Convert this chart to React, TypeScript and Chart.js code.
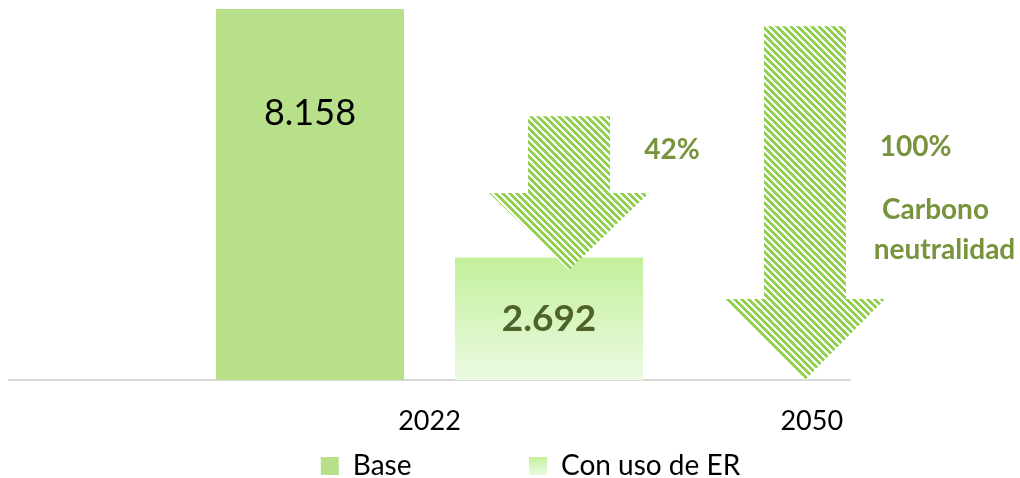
import React, { useEffect, useRef } from 'react';
import { Chart, registerables } from 'chart.js';

Chart.register(...registerables);

// ---- data ----
const categories = ['', '', '', '', '', '2022', '', '', '', '', '2050'];
const seriesNames = ['Base', 'Con uso de ER'];
const baseValues = [null, null, null, null, null, 8.158, null, null, null, null, null];
const erValues = [null, null, null, null, null, 2.692, null, null, null, null, null];
const valueLabels = ['8.158', '2.692'];
const valueLabelLevels = [5.87, 1.35];
const yMax = 8.356;

// reduction arrows (x in category units, levels in value units)
const arrowCenters = [6.825, 9.911];
const arrowTops = [5.8, 7.78];
const arrowHeadStarts = [4.11, 1.78];
const arrowTips = [2.42, 0];

// notes
const noteTexts = ['42%', '100%', 'Carbono', 'neutralidad'];
const noteCats = [8.172, 11.357, 11.618, 11.736];
const noteLevels = [5.057, 5.123, 3.738, 2.858];

// ---- styles ----
const BASE_COLOR = '#B8E08B';
const ER_TOP = '#C3F09B';
const ER_BOTTOM = '#EBFAE2';
const STRIPE = [146, 208, 80];
const NOTE_COLOR = '#77933C';
const DARK = '#4F6228';
const FONT = 'Lato';
const SHAFT_HALF = 41;
const HEAD_HALF = 80;
const LEGEND_GAP_SPACES = 15;

function makePattern(ctx: CanvasRenderingContext2D) {
  const P = 7;
  const W = 4;
  const c = document.createElement('canvas');
  c.width = P;
  c.height = P;
  const g = c.getContext('2d')!;
  const img = g.createImageData(P, P);
  for (let y = 0; y < P; y++) {
    for (let x = 0; x < P; x++) {
      const i = (y * P + x) * 4;
      const on = (((x - y) % P) + P) % P < W;
      img.data[i] = on ? STRIPE[0] : 255;
      img.data[i + 1] = on ? STRIPE[1] : 255;
      img.data[i + 2] = on ? STRIPE[2] : 255;
      img.data[i + 3] = 255;
    }
  }
  g.putImageData(img, 0, 0);
  return ctx.createPattern(c, 'repeat')!;
}

const overlayPlugin = {
  id: 'overlay',
  afterDatasetsDraw(chart: any) {
    const { ctx } = chart;
    const xs = chart.scales.x;
    const ys = chart.scales.y;
    const pattern = makePattern(ctx);
    ctx.save();
    // arrows
    arrowCenters.forEach((c, i) => {
      const cx = xs.getPixelForValue(c);
      const top = ys.getPixelForValue(arrowTops[i]);
      const hs = ys.getPixelForValue(arrowHeadStarts[i]);
      const tip = ys.getPixelForValue(arrowTips[i]);
      ctx.beginPath();
      ctx.moveTo(cx - SHAFT_HALF, top);
      ctx.lineTo(cx + SHAFT_HALF, top);
      ctx.lineTo(cx + SHAFT_HALF, hs);
      ctx.lineTo(cx + HEAD_HALF, hs);
      ctx.lineTo(cx, tip);
      ctx.lineTo(cx - HEAD_HALF, hs);
      ctx.lineTo(cx - SHAFT_HALF, hs);
      ctx.closePath();
      ctx.fillStyle = pattern;
      ctx.fill();
    });
    // value labels
    ctx.textAlign = 'center';
    ctx.textBaseline = 'middle';
    valueLabels.forEach((t, i) => {
      const meta = chart.getDatasetMeta(i);
      const bar = meta.data[5];
      if (!bar) return;
      const y = ys.getPixelForValue(valueLabelLevels[i]);
      ctx.font = i === 0 ? `36px ${FONT}` : `bold 37px ${FONT}`;
      ctx.fillStyle = i === 0 ? '#000000' : DARK;
      ctx.fillText(t, bar.x, y);
    });
    // notes
    ctx.font = `bold 28px ${FONT}`;
    ctx.fillStyle = NOTE_COLOR;
    noteTexts.forEach((t, i) => {
      ctx.fillText(t, xs.getPixelForValue(noteCats[i]), ys.getPixelForValue(noteLevels[i]));
    });
    ctx.restore();
  },
};

function erFill(ctx: any) {
  const chart = ctx.chart;
  const area = chart.chartArea;
  const ys = chart.scales && chart.scales.y;
  if (!area || !ys) return ER_TOP;
  const v = ctx.type === 'data' && ctx.parsed && Number.isFinite(ctx.parsed.y) ? ctx.parsed.y : null;
  if (v === null) return ER_TOP;
  const yTop = ys.getPixelForValue(v);
  if (!Number.isFinite(yTop) || !Number.isFinite(area.bottom)) return ER_TOP;
  const g = chart.ctx.createLinearGradient(0, yTop, 0, area.bottom);
  g.addColorStop(0, ER_TOP);
  g.addColorStop(1, ER_BOTTOM);
  return g;
}

export default function App() {
  const ref = useRef<HTMLCanvasElement>(null);
  useEffect(() => {
    if (!ref.current) return;
    Chart.defaults.font.family = FONT;
    const chart = new Chart(ref.current, {
      type: 'bar',
      data: {
        labels: categories,
        datasets: [
          {
            label: seriesNames[0],
            data: baseValues,
            backgroundColor: BASE_COLOR,
            borderWidth: 0,
          },
          {
            label: seriesNames[1],
            data: erValues,
            backgroundColor: erFill,
            borderWidth: 0,
          },
        ],
      },
      options: {
        animation: false,
        responsive: false,
        layout: { padding: { left: 9, right: 0, top: 0, bottom: 0 } },
        datasets: {
          bar: {
            categoryPercentage: 6.252,
            barPercentage: 0.7866,
          },
        },
        scales: {
          x: {
            grid: { display: false, drawTicks: false },
            border: { display: true, color: '#D9D9D9', width: 2 },
            ticks: {
              autoSkip: false,
              maxRotation: 0,
              padding: 25,
              color: '#000000',
              font: { size: 27, family: FONT },
            },
            afterFit: (s: any) => {
              s.height = 62;
            },
          },
          y: {
            position: 'right',
            min: 0,
            max: yMax,
            grid: { display: false, drawTicks: false },
            border: { display: false },
            ticks: { display: false },
            afterFit: (s: any) => {
              s.width = 202;
            },
          },
        },
        plugins: {
          tooltip: { enabled: false },
          legend: {
            position: 'bottom',
            labels: {
              boxWidth: 18,
              boxHeight: 18,
              padding: 10,
              color: '#000000',
              font: { size: 28, family: FONT },
              generateLabels: (c: any) => {
                const h = c.height;
                const g = c.ctx.createLinearGradient(0, h - 33, 0, h - 15);
                g.addColorStop(0, ER_TOP);
                g.addColorStop(1, ER_BOTTOM);
                return [
                  {
                    text: seriesNames[0] + ' '.repeat(LEGEND_GAP_SPACES),
                    fillStyle: BASE_COLOR,
                    strokeStyle: BASE_COLOR,
                    lineWidth: 0,
                    hidden: false,
                    datasetIndex: 0,
                  },
                  {
                    text: seriesNames[1],
                    fillStyle: g,
                    strokeStyle: ER_TOP,
                    lineWidth: 0,
                    hidden: false,
                    datasetIndex: 1,
                  },
                ];
              },
            },
          },
        },
      },
      plugins: [overlayPlugin],
    } as any);
    return () => chart.destroy();
  }, []);
  return (
    <div style={{ position: 'fixed', left: 0, top: 0, width: 1020, height: 478, overflow: 'hidden', background: '#fff' }}>
      <canvas ref={ref} width={1052} height={490} style={{ display: 'block' }} />
    </div>
  );
}
